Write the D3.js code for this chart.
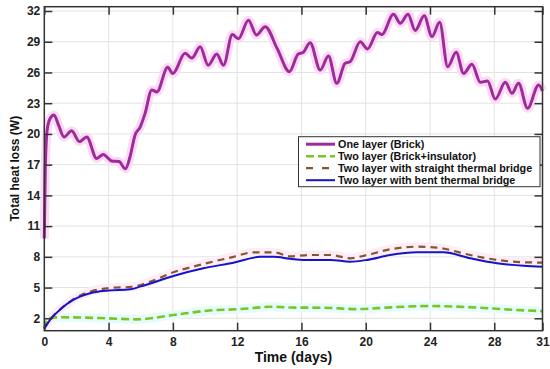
<!DOCTYPE html>
<html>
<head>
<meta charset="utf-8">
<script src="https://cdn.jsdelivr.net/npm/d3@7"></script>
<style>
  html, body { margin: 0; padding: 0; background: #fff; }
  svg { display: block; font-family: "Liberation Sans", Arial, sans-serif; }
</style>
</head>
<body>
<svg id="chart" width="550" height="369"></svg>
<script>
// ---- data ----
const xTicks = [0, 4, 8, 12, 16, 20, 24, 28, 31];
const yTicks = [2, 5, 8, 11, 14, 17, 20, 23, 26, 29, 32];
const xLabel = "Time (days)";
const yLabel = "Total heat loss (W)";
const seriesNames = [
  "One layer (Brick)",
  "Two layer (Brick+insulator)",
  "Two layer with straight thermal bridge",
  "Two layer with bent thermal bridge"
];

const oneLayerDays = [0, 0.06, 0.18, 0.36, 0.6, 0.9, 1.23, 1.7, 2.18, 2.64, 3.26, 3.67, 4.2, 4.65, 5.05, 5.34, 5.65, 5.96, 6.27, 6.69, 7.0, 7.68, 8.0, 8.76, 9.18, 9.7, 10.2, 10.73, 11.15, 11.7, 12.08, 12.7, 13.2, 13.74, 14.5, 15.25, 15.8, 16.1, 16.54, 17.17, 17.68, 18.2, 18.72, 19.03, 19.66, 20.11, 20.73, 21.0, 21.73, 22.15, 22.63, 23.08, 23.64, 24.12, 24.6, 25.1, 25.63, 26.09, 26.61, 27.13, 27.58, 28.06, 28.69, 29.1, 29.51, 30.07, 30.76, 31.0];
const oneLayer = [9.8, 16.5, 20.4, 21.5, 21.85, 20.8, 19.7, 20.3, 19.25, 19.7, 17.6, 18.0, 17.35, 17.3, 16.6, 17.8, 19.9, 20.65, 22.0, 24.3, 24.1, 26.5, 25.9, 27.87, 27.4, 28.5, 26.7, 27.8, 26.7, 29.7, 29.3, 31.1, 29.66, 30.47, 28.3, 26.08, 27.8, 27.95, 28.9, 26.24, 27.6, 24.94, 26.9, 27.05, 29.0, 28.3, 29.9, 29.7, 31.68, 30.8, 31.68, 30.1, 31.54, 29.5, 30.9, 26.56, 27.97, 25.9, 26.8, 25.04, 25.17, 23.4, 25.04, 23.97, 24.94, 22.5, 24.78, 24.2];

const insulatorDays = [0, 0.25, 0.98, 3.88, 5.75, 8.03, 10.11, 12.19, 14.26, 15.3, 17.37, 19.45, 21.52, 24.02, 25.68, 27.75, 29.41, 31.0];
const insulator = [1.0, 2.0, 2.1, 2.0, 1.9, 2.32, 2.74, 2.9, 3.13, 3.05, 3.03, 2.9, 3.07, 3.2, 3.14, 2.97, 2.81, 2.7];

const straightDays = [0, 0.35, 1.08, 1.8, 2.85, 3.88, 5.54, 6.58, 8.03, 9.9, 11.77, 13.0, 14.26, 15.3, 16.54, 17.8, 19.03, 20.07, 21.52, 23.19, 24.43, 26.5, 28.17, 29.83, 31.0];
const straight = [1.0, 1.85, 3.0, 3.85, 4.6, 4.93, 5.09, 5.57, 6.49, 7.3, 8.0, 8.44, 8.44, 8.05, 8.18, 8.18, 7.86, 8.18, 8.74, 8.99, 8.9, 8.18, 7.7, 7.47, 7.44];

const bentDays = [0, 0.35, 1.08, 1.8, 2.85, 3.88, 5.34, 5.96, 8.03, 9.9, 11.77, 13.43, 14.26, 15.3, 16.13, 17.8, 19.03, 20.07, 21.52, 23.19, 24.84, 26.5, 28.17, 29.83, 31.0];
const bent = [1.0, 1.83, 2.98, 3.79, 4.44, 4.7, 4.83, 5.09, 6.13, 6.88, 7.43, 8.0, 8.0, 7.82, 7.7, 7.7, 7.53, 7.7, 8.18, 8.44, 8.44, 7.86, 7.37, 7.13, 7.04];

// ---- layout ----
const L = 44.3, R = 542.5, T = 6.7, B = 330.7;
const svg = d3.select("#chart");
const x = d3.scaleLinear().domain([0, 31]).range([L, R]);
const y = d3.scaleLinear().domain([0.79, 32.42]).range([B, T]);

const toPts = (xs, ys) => xs.map((d, i) => [d, ys[i]]);
const line = d3.line().x(d => x(d[0])).y(d => y(d[1])).curve(d3.curveMonotoneX);

// grid
const g = svg.append("g");
g.selectAll(".gx").data(xTicks.filter(t => t > 0 && t < 31)).join("line")
  .attr("x1", d => x(d)).attr("x2", d => x(d)).attr("y1", T).attr("y2", B)
  .attr("stroke", "#e2e2e2").attr("stroke-width", 1);
g.selectAll(".gy").data(yTicks).join("line")
  .attr("x1", L).attr("x2", R).attr("y1", d => y(d)).attr("y2", d => y(d))
  .attr("stroke", "#e2e2e2").attr("stroke-width", 1);

// series
const series = [
  { pts: toPts(insulatorDays, insulator), color: "#7cc520", w: 2.6, dash: "8,4", glow: "#e6fbfb" },
  { pts: toPts(straightDays, straight), color: "#86562c", w: 2.2, dash: "7,5", glow: "#fdedf7" },
  { pts: toPts(bentDays, bent), color: "#1414c8", w: 2, dash: null, glow: null },
  { pts: toPts(oneLayerDays, oneLayer), color: "#a02a9c", w: 3, dash: null, glow: "#fbdaf4" }
];
series.forEach(s => {
  if (s.glow) {
    svg.append("path").attr("d", line(s.pts)).attr("fill", "none")
      .attr("stroke", s.glow).attr("stroke-width", 9).attr("stroke-linejoin", "round");
  }
});
series.forEach(s => {
  svg.append("path").attr("d", line(s.pts)).attr("fill", "none")
    .attr("stroke", s.color).attr("stroke-width", s.w)
    .attr("stroke-dasharray", s.dash).attr("stroke-linejoin", "round");
});

// frame
svg.append("rect").attr("x", L).attr("y", T).attr("width", R - L).attr("height", B - T)
  .attr("fill", "none").attr("stroke", "#333").attr("stroke-width", 1.5);

// axes (inner ticks, via d3 axes)
const tickLen = 8;
const xAxisB = d3.axisBottom(x).tickValues(xTicks).tickSize(-tickLen).tickPadding(7).tickFormat(d3.format("d"));
const xAxisT = d3.axisTop(x).tickValues(xTicks).tickSize(-tickLen).tickFormat("");
const yAxisL = d3.axisLeft(y).tickValues(yTicks).tickSize(-tickLen).tickPadding(4).tickFormat(d3.format("d"));
const yAxisR = d3.axisRight(y).tickValues(yTicks).tickSize(-tickLen).tickFormat("");

function style(sel) {
  sel.select(".domain").remove();
  sel.selectAll(".tick line").attr("stroke", "#333").attr("stroke-width", 1.5);
  sel.selectAll(".tick text").attr("fill", "#222").attr("font-size", 12).attr("font-weight", "bold")
    .attr("font-family", "Liberation Sans, Arial, sans-serif");
}
svg.append("g").attr("transform", `translate(0,${B})`).call(xAxisB).call(style);
svg.append("g").attr("transform", `translate(0,${T})`).call(xAxisT).call(style);
svg.append("g").attr("transform", `translate(${L},0)`).call(yAxisL).call(style);
svg.append("g").attr("transform", `translate(${R},0)`).call(yAxisR).call(style);

// axis titles
svg.append("text").attr("x", (L + R) / 2).attr("y", 362).attr("text-anchor", "middle")
  .attr("font-size", 14).attr("font-weight", "bold").attr("fill", "#111").text(xLabel);
svg.append("text").attr("transform", `translate(19,${(T + B) / 2}) rotate(-90)`)
  .attr("text-anchor", "middle").attr("font-size", 12).attr("font-weight", "bold")
  .attr("fill", "#111").text(yLabel);

// legend
const lg = svg.append("g");
lg.append("rect").attr("x", 298.5).attr("y", 136.7).attr("width", 241.5).attr("height", 50)
  .attr("fill", "#fff").attr("stroke", "#333").attr("stroke-width", 1);
const legendStyles = [
  { color: "#a02a9c", w: 3, dash: null },
  { color: "#7cc520", w: 2.6, dash: "8,4" },
  { color: "#86562c", w: 2.2, dash: "7,9" },
  { color: "#1414c8", w: 2, dash: null }
];
const rowY = [144.2, 156.2, 168.2, 180.2];
seriesNames.forEach((name, i) => {
  const st = legendStyles[i];
  lg.append("line").attr("x1", 306).attr("x2", 335).attr("y1", rowY[i]).attr("y2", rowY[i])
    .attr("stroke", st.color).attr("stroke-width", st.w).attr("stroke-dasharray", st.dash);
  lg.append("text").attr("x", 338).attr("y", rowY[i] + 3.8)
    .attr("font-size", 10.8).attr("font-weight", "bold").attr("fill", "#111").text(name);
});
</script>
</body>
</html>
